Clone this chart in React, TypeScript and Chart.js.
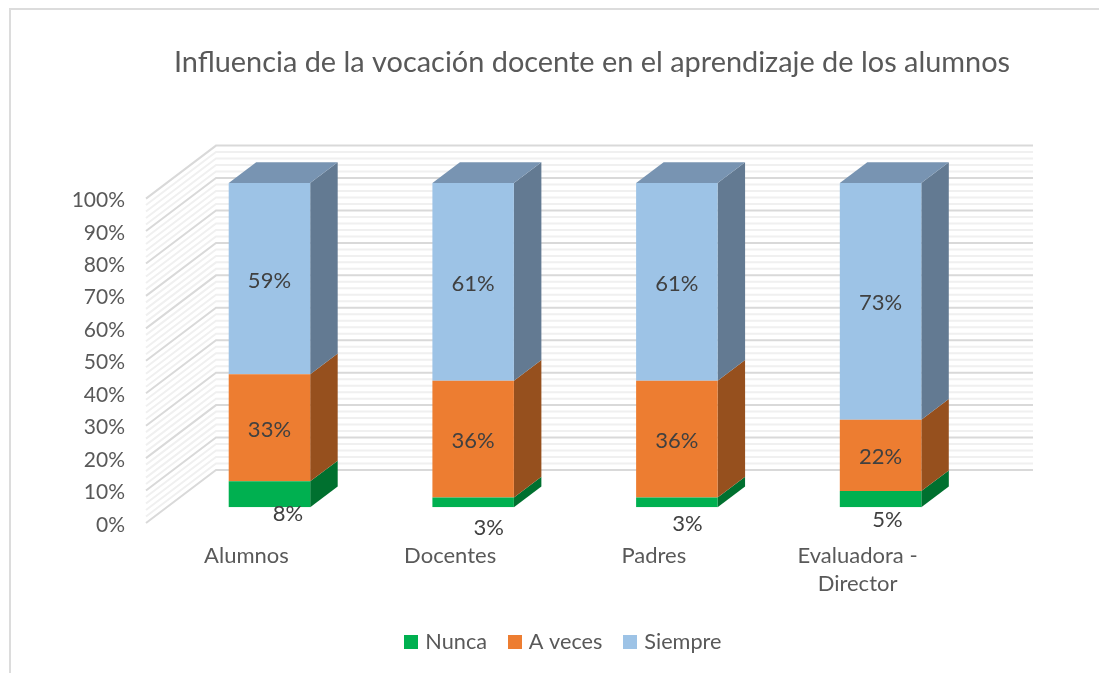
import React, { useEffect, useRef } from "react";
import { Chart, registerables } from "chart.js";

Chart.register(...registerables);

const categories: (string | string[])[] = ["Alumnos", "Docentes", "Padres", ["Evaluadora -", "Director"]];
const nunca = [8, 3, 3, 5];
const aVeces = [33, 36, 36, 22];
const siempre = [59, 61, 61, 73];

const FONT = "Lato, Carlito, Calibri, sans-serif";
const FILL = ["#00b050", "#ed7d31", "#9dc3e6"];
const SIDE = ["#00702f", "#96501e", "#637a92"];
const TOP = "#7894b2";
const NUNCA_OFFSETS = [[18.5, 18], [15.5, 23.5], [10.5, 19.5], [7, 19]];

const BAR_DX = 27.5;
const BAR_DY = 20.7;

const makeSwatch = (color: string) => {
  const c = document.createElement("canvas");
  c.width = 14;
  c.height = 14;
  const g = c.getContext("2d")!;
  g.fillStyle = color;
  g.fillRect(0, 0, 14, 14);
  return c;
};

const frame = {
  id: "frame",
  beforeDraw(chart: any) {
    const { ctx, width, height } = chart;
    ctx.save();
    ctx.strokeStyle = "#dcdcdc";
    ctx.lineWidth = 2;
    ctx.beginPath();
    ctx.moveTo(10, height);
    ctx.lineTo(10, 9);
    ctx.lineTo(width, 9);
    ctx.stroke();
    ctx.restore();
  },
};

const walls = {
  id: "walls",
  beforeDatasetsDraw(chart: any) {
    const { ctx, scales } = chart;
    const y = scales.y;
    ctx.save();
    const line = (v: number, major: boolean) => {
      const p = y.getPixelForValue(v);
      ctx.strokeStyle = major ? "#d9d9d9" : "#f0f0f0";
      ctx.lineWidth = 2;
      ctx.beginPath();
      ctx.moveTo(146, p + 15.7);
      ctx.lineTo(216, p - 37.3);
      ctx.lineTo(1033, p - 37.3);
      ctx.stroke();
    };
    for (let v = 2; v < 100; v += 2) if (v % 10) line(v, false);
    for (let v = 0; v <= 100; v += 10) line(v, true);

    chart.data.datasets.forEach((_: any, i: number) => {
      const meta = chart.getDatasetMeta(i);
      meta.data.forEach((bar: any) => {
        const r = bar.x + bar.width / 2;
        ctx.fillStyle = SIDE[i];
        ctx.beginPath();
        ctx.moveTo(r, bar.y);
        ctx.lineTo(r + BAR_DX, bar.y - BAR_DY);
        ctx.lineTo(r + BAR_DX, bar.base - BAR_DY);
        ctx.lineTo(r, bar.base);
        ctx.closePath();
        ctx.fill();
        if (i === chart.data.datasets.length - 1) {
          const l = bar.x - bar.width / 2;
          ctx.fillStyle = TOP;
          ctx.beginPath();
          ctx.moveTo(l, bar.y);
          ctx.lineTo(l + BAR_DX, bar.y - BAR_DY);
          ctx.lineTo(r + BAR_DX, bar.y - BAR_DY);
          ctx.lineTo(r, bar.y);
          ctx.closePath();
          ctx.fill();
        }
      });
    });
    ctx.restore();
  },
};

const valueLabels = {
  id: "valueLabels",
  afterDatasetsDraw(chart: any) {
    const { ctx } = chart;
    ctx.save();
    ctx.fillStyle = "#404040";
    ctx.font = `22px ${FONT}`;
    ctx.textAlign = "center";
    ctx.textBaseline = "middle";
    chart.data.datasets.forEach((ds: any, i: number) => {
      chart.getDatasetMeta(i).data.forEach((bar: any, j: number) => {
        const off = i === 0 ? NUNCA_OFFSETS[j] : [0, 0];
        ctx.fillText(`${ds.data[j]}%`, bar.x + off[0], (bar.y + bar.base) / 2 + off[1] + 2);
      });
    });
    ctx.restore();
  },
};

const placeBoxes = {
  id: "placeBoxes",
  afterLayout(chart: any) {
    const t = chart.titleBlock;
    if (t) {
      t.left = 592 - 549.5;
      t.right = 592 + 549.5;
    }
    const l = chart.legend;
    if (l) {
      const d = 565 - (l.left + l.right) / 2;
      l.left += d;
      l.right += d;
      l.adjustHitBoxes();
    }
  },
};

export default function App() {
  const ref = useRef<HTMLCanvasElement>(null);
  useEffect(() => {
    const chart = new Chart(ref.current!, {
      type: "bar",
      data: {
        labels: categories as any,
        datasets: [
          { label: "Nunca", data: nunca, backgroundColor: FILL[0] },
          { label: "A veces", data: aVeces, backgroundColor: FILL[1] },
          { label: "Siempre", data: siempre, backgroundColor: FILL[2] },
        ],
      },
      options: {
        responsive: false,
        animation: false,
        layout: { padding: { left: 0, right: 116.6, top: 18, bottom: 10 } },
        datasets: { bar: { categoryPercentage: 0.4, barPercentage: 1 } },
        scales: {
          x: {
            stacked: true,
            grid: { display: false, drawTicks: false },
            border: { display: false },
            afterFit: (s: any) => {
              s.height = 99;
            },
            ticks: {
              color: "#595959",
              font: { family: FONT, size: 22, lineHeight: 1.3 },
              padding: 34,
              labelOffset: -23,
              maxRotation: 0,
              autoSkip: false,
            },
          },
          y: {
            stacked: true,
            min: 0,
            max: 100,
            grid: { display: false, drawTicks: false },
            border: { display: false },
            afterFit: (s: any) => {
              s.width = 167.6;
            },
            ticks: {
              stepSize: 10,
              color: "#595959",
              font: { family: FONT, size: 21 },
              padding: 42.6,
              labelOffset: 17.5,
              callback: (v: any) => `${v}%`,
            },
          },
        },
        plugins: {
          title: {
            display: true,
            text: "Influencia de la vocación docente en el aprendizaje de los alumnos",
            color: "#595959",
            font: { family: FONT, size: 28.9, weight: "normal" },
            padding: { top: 27, bottom: 103.2 },
          },
          legend: {
            position: "bottom",
            labels: {
              color: "#595959",
              font: { family: FONT, size: 21.7 },
              usePointStyle: true,
              pointStyleWidth: 6,
              padding: 25,
              generateLabels: (c: any) =>
                Chart.defaults.plugins.legend.labels.generateLabels(c).map((l: any) => ({
                  ...l,
                  pointStyle: makeSwatch(FILL[l.datasetIndex]),
                })),
            },
          },
          tooltip: { enabled: false },
        },
      } as any,
      plugins: [frame, walls, valueLabels, placeBoxes],
    });
    return () => chart.destroy();
  }, []);
  return (
    <canvas
      ref={ref}
      width={1099}
      height={673}
      style={{ position: "absolute", left: 0, top: 0, display: "block" }}
    />
  );
}
